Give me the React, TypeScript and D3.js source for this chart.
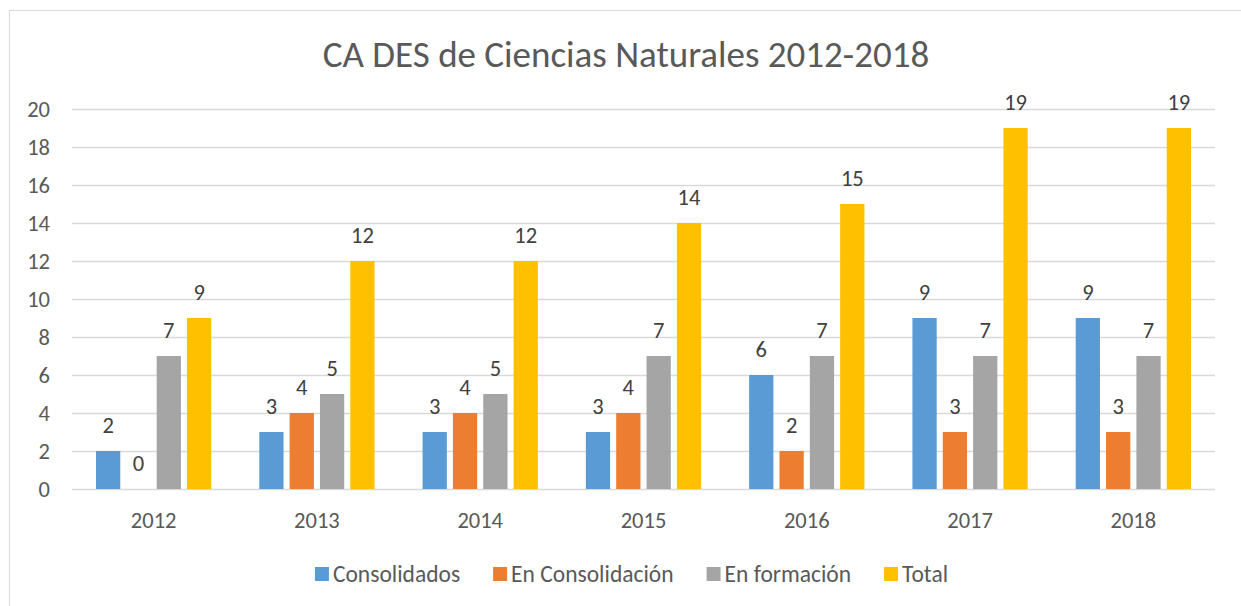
import React, { useEffect, useRef } from "react";
import * as d3 from "d3";

const years = ["2012", "2013", "2014", "2015", "2016", "2017", "2018"];
const seriesNames = ["Consolidados", "En Consolidación", "En formación", "Total"];
const consolidados = [2, 3, 3, 3, 6, 9, 9];
const enConsolidacion = [0, 4, 4, 4, 2, 3, 3];
const enFormacion = [7, 5, 5, 7, 7, 7, 7];
const total = [9, 12, 12, 14, 15, 19, 19];
const yTicks = [0, 2, 4, 6, 8, 10, 12, 14, 16, 18, 20];
const colors = ["#5B9BD5", "#ED7D31", "#A5A5A5", "#FFC000"];

const FONT = "Carlito, Calibri, Lato, 'Noto Sans', sans-serif";

const App = () => {
  const svgRef = useRef<SVGSVGElement>(null);

  useEffect(() => {
    const svg = d3.select(svgRef.current);
    svg.selectAll("*").remove();

    const W = 1241;
    const H = 606;
    const margin = { top: 109, right: 26, bottom: 117, left: 72 };
    const values = [consolidados, enConsolidacion, enFormacion, total];

    // chart frame
    svg
      .append("rect")
      .attr("x", 9.5)
      .attr("y", 10.5)
      .attr("width", W - 4)
      .attr("height", H)
      .attr("fill", "#fff")
      .attr("stroke", "#D9D9D9");

    // scales
    const x0 = d3
      .scaleBand()
      .domain(years)
      .range([margin.left, W - margin.right])
      .padding(0);

    const x1 = d3
      .scaleBand()
      .domain(seriesNames)
      .range([24, x0.bandwidth() - 24])
      .paddingInner(0.2);

    const y = d3
      .scaleLinear()
      .domain([0, 20])
      .range([H - margin.bottom, margin.top]);

    // gridlines
    svg
      .append("g")
      .selectAll("line")
      .data(yTicks)
      .enter()
      .append("line")
      .attr("x1", margin.left)
      .attr("x2", W - margin.right)
      .attr("y1", (d) => Math.round(y(d)) + 0.5)
      .attr("y2", (d) => Math.round(y(d)) + 0.5)
      .attr("stroke", "#D9D9D9")
      .attr("stroke-width", 1.3);

    // y axis labels
    svg
      .append("g")
      .selectAll("text")
      .data(yTicks)
      .enter()
      .append("text")
      .attr("x", 50)
      .attr("y", (d) => y(d) + 8)
      .attr("text-anchor", "end")
      .attr("font-family", FONT)
      .attr("font-size", 22.5)
      .attr("fill", "#595959")
      .text((d) => d);

    // x axis labels
    svg
      .append("g")
      .selectAll("text")
      .data(years)
      .enter()
      .append("text")
      .attr("x", (d) => (x0(d) as number) + x0.bandwidth() / 2)
      .attr("y", y(0) + 39)
      .attr("text-anchor", "middle")
      .attr("font-family", FONT)
      .attr("font-size", 22.5)
      .attr("fill", "#595959")
      .text((d) => d);

    // bars
    const groups = svg
      .append("g")
      .selectAll("g")
      .data(years)
      .enter()
      .append("g")
      .attr("transform", (d) => `translate(${x0(d)},0)`);

    const cells = groups
      .selectAll("g")
      .data((_, i) => seriesNames.map((s, k) => ({ s, k, v: values[k][i] })))
      .enter()
      .append("g");

    cells
      .append("rect")
      .attr("x", (d) => x1(d.s) as number)
      .attr("y", (d) => y(d.v))
      .attr("width", x1.bandwidth())
      .attr("height", (d) => y(0) - y(d.v))
      .attr("fill", (d) => colors[d.k]);

    cells
      .append("text")
      .attr("x", (d) => (x1(d.s) as number) + x1.bandwidth() / 2)
      .attr("y", (d) => y(d.v) - 18)
      .attr("text-anchor", "middle")
      .attr("font-family", FONT)
      .attr("font-size", 22.5)
      .attr("fill", "#404040")
      .text((d) => d.v);

    // title
    svg
      .append("text")
      .attr("x", 626)
      .attr("y", 67)
      .attr("text-anchor", "middle")
      .attr("font-family", FONT)
      .attr("font-size", 37)
      .attr("fill", "#595959")
      .text("CA DES de Ciencias Naturales 2012-2018");

    // legend
    const legend = svg.append("g");
    const items = legend
      .selectAll("g")
      .data(seriesNames)
      .enter()
      .append("g");
    items
      .append("rect")
      .attr("width", 14)
      .attr("height", 14)
      .attr("y", 567)
      .attr("fill", (_, i) => colors[i]);
    items
      .append("text")
      .attr("x", 18)
      .attr("y", 582)
      .attr("font-family", FONT)
      .attr("font-size", 23.5)
      .attr("fill", "#595959")
      .text((d) => d);

    // measure and place legend items
    const widths: number[] = [];
    items.each(function () {
      const t = d3.select(this).select("text").node() as SVGTextElement;
      widths.push(18 + t.getComputedTextLength());
    });
    const gap = 33;
    const totalW = d3.sum(widths) + gap * (widths.length - 1);
    let cx = 631.5 - totalW / 2;
    items.attr("transform", (_, i) => {
      const tx = cx;
      cx += widths[i] + gap;
      return `translate(${tx},0)`;
    });
  }, []);

  return (
    <div style={{ position: "absolute", left: 0, top: 0 }}>
      <svg ref={svgRef} width={1241} height={606}></svg>
    </div>
  );
};

export default App;
